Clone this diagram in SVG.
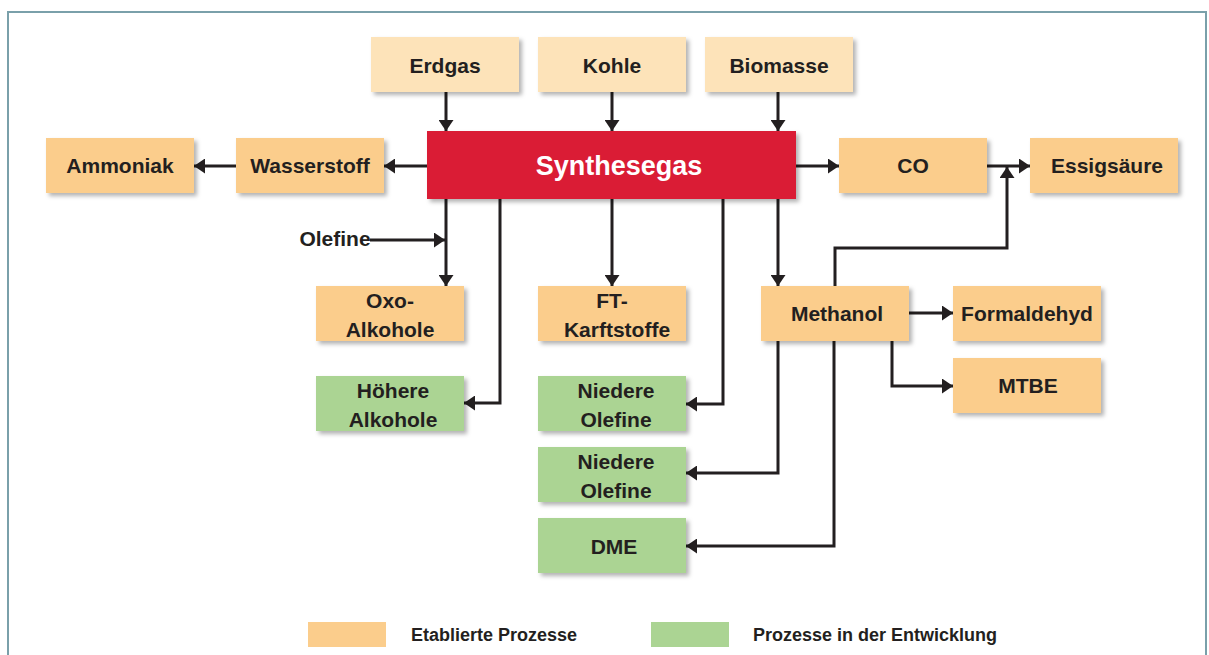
<svg xmlns="http://www.w3.org/2000/svg" width="1209" height="655" viewBox="0 0 1209 655">
<style>
.box{stroke:none;filter:url(#sh)}
.est{fill:#fbcd8c}
.raw{fill:#fde3b9}
.dev{fill:#abd493}
.syn{fill:#da1f36}
text{font-family:"Liberation Sans",Arial,sans-serif;font-weight:bold;font-size:21px;fill:#231f20;text-anchor:middle}
.big{font-size:27px;fill:#ffffff}
.leg{font-size:18px;text-anchor:start}
.c{fill:none;stroke:#231f20;stroke-width:3;stroke-linejoin:miter}
.a{marker-end:url(#ar)}
</style>
<defs>
<filter id="sh" x="-10%" y="-20%" width="130%" height="160%">
<feDropShadow dx="3" dy="3" stdDeviation="2" flood-color="#000" flood-opacity="0.3"/>
</filter>
<marker id="ar" markerUnits="userSpaceOnUse" viewBox="0 0 11 15" refX="11" refY="7.5" markerWidth="11" markerHeight="15" orient="auto">
<path d="M0,0 L11,7.5 L0,15 z" fill="#231f20"/>
</marker>
</defs>
<rect x="8" y="12" width="1198" height="660" fill="#ffffff" stroke="#7aa0aa" stroke-width="2"/>

<g id="connectors">
<path class="c a" d="M446,92 V131"/>
<path class="c a" d="M612,92 V131"/>
<path class="c a" d="M778,92 V131"/>
<path class="c a" d="M427,166 H384"/>
<path class="c a" d="M236,166 H194"/>
<path class="c a" d="M796,166 H839"/>
<path class="c a" d="M987,166 H1030"/>
<path class="c a" d="M446,199 V286"/>
<path class="c a" d="M370,240 H445"/>
<path class="c a" d="M500,199 V403 H464"/>
<path class="c a" d="M612,199 V286"/>
<path class="c a" d="M723,199 V404 H686"/>
<path class="c a" d="M778,199 V286"/>
<path class="c a" d="M835,286 V248 H1007 V167"/>
<path class="c a" d="M909,313 H953"/>
<path class="c a" d="M892,341 V386 H953"/>
<path class="c a" d="M778,341 V473 H686"/>
<path class="c a" d="M834,341 V546 H686"/>
</g>

<g id="erdgas"><rect class="box raw" x="371" y="37" width="148" height="55"/><text x="445" y="73">Erdgas</text></g>
<g id="kohle"><rect class="box raw" x="538" y="37" width="148" height="55"/><text x="612" y="73">Kohle</text></g>
<g id="biomasse"><rect class="box raw" x="705" y="37" width="148" height="55"/><text x="779" y="73">Biomasse</text></g>

<g id="synthesegas"><rect class="box syn" x="427" y="131" width="369" height="68"/><text class="big" x="619" y="175">Synthesegas</text></g>

<g id="ammoniak"><rect class="box est" x="46" y="138" width="148" height="55"/><text x="120" y="173">Ammoniak</text></g>
<g id="wasserstoff"><rect class="box est" x="236" y="138" width="148" height="55"/><text x="310" y="173">Wasserstoff</text></g>
<g id="co"><rect class="box est" x="839" y="138" width="148" height="55"/><text x="913" y="173">CO</text></g>
<g id="essigsaeure"><rect class="box est" x="1030" y="138" width="148" height="55"/><text x="1107" y="173">Essigsäure</text></g>

<g id="olefine-input"><text x="335" y="246">Olefine</text></g>

<g id="oxo"><rect class="box est" x="316" y="286" width="148" height="55"/><text x="390" y="308">Oxo-</text><text x="390" y="337">Alkohole</text></g>
<g id="ft"><rect class="box est" x="538" y="286" width="148" height="55"/><text x="612" y="308">FT-</text><text x="617" y="337">Karftstoffe</text></g>
<g id="methanol"><rect class="box est" x="761" y="286" width="148" height="55"/><text x="837" y="321">Methanol</text></g>
<g id="formaldehyd"><rect class="box est" x="953" y="286" width="148" height="55"/><text x="1027" y="321">Formaldehyd</text></g>
<g id="mtbe"><rect class="box est" x="953" y="358" width="148" height="55"/><text x="1028" y="393">MTBE</text></g>

<g id="hoehere-alkohole"><rect class="box dev" x="316" y="376" width="148" height="55"/><text x="393" y="398">Höhere</text><text x="393" y="427">Alkohole</text></g>
<g id="niedere-olefine-1"><rect class="box dev" x="538" y="376" width="148" height="55"/><text x="616" y="398">Niedere</text><text x="616" y="427">Olefine</text></g>
<g id="niedere-olefine-2"><rect class="box dev" x="538" y="447" width="148" height="55"/><text x="616" y="469">Niedere</text><text x="616" y="498">Olefine</text></g>
<g id="dme"><rect class="box dev" x="538" y="518" width="148" height="55"/><text x="614" y="554">DME</text></g>

<g id="legend">
<rect x="308" y="622" width="78" height="25" class="est"/>
<text class="leg" x="411" y="641">Etablierte Prozesse</text>
<rect x="651" y="622" width="78" height="25" class="dev"/>
<text class="leg" x="753" y="641">Prozesse in der Entwicklung</text>
</g>
</svg>
